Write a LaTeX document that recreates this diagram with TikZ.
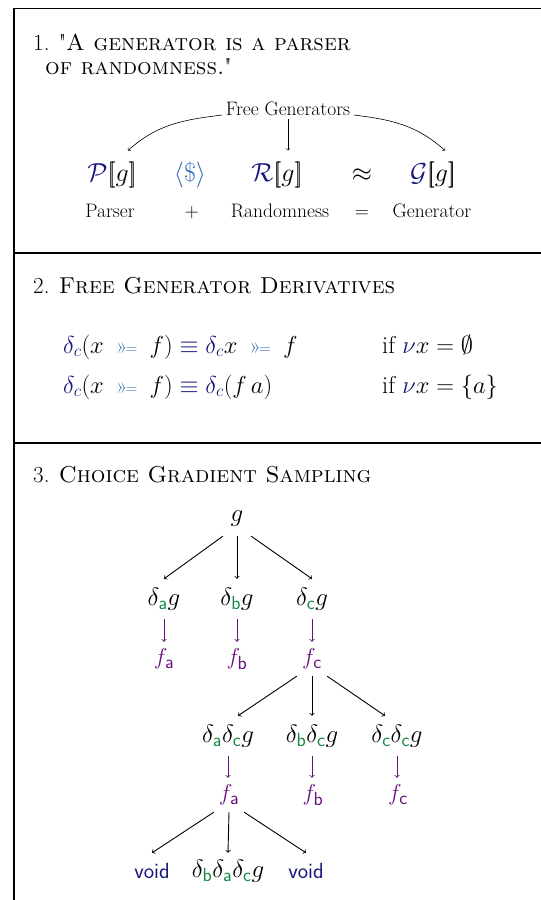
\RequirePackage{fix-cm}
\documentclass[tikz,border=0pt]{standalone}
\usepackage{amsmath}
\usetikzlibrary{positioning}

\definecolor{navy}{RGB}{22,22,125}
\definecolor{lblue}{RGB}{45,105,180}
\definecolor{chgreen}{RGB}{20,135,65}
\definecolor{fpurple}{RGB}{105,15,125}

% choice subscripts, brackets and operators
\newcommand{\ch}[2][chgreen]{_{\mbox{\fontsize{19}{19}\selectfont\sffamily\color{#1}#2}}}
\newcommand{\sembr}[1]{[\mkern-3.5mu[#1]\mkern-3.5mu]}
\newcommand{\bind}{\;\mathbin{\mbox{\color{lblue}\fontsize{22}{22}\selectfont\guillemotright\kern-1.5pt\fontsize{16}{16}\selectfont=}}\;}
\newcommand{\dlt}{\textcolor{navy}{\delta_c}}

\begin{document}
\begin{tikzpicture}[x=1pt,y=1pt,
  sectitle/.style={anchor=base west, inner sep=0pt, font=\fontsize{23}{26}\selectfont},
  lbl/.style={anchor=base, font=\fontsize{19.5}{22}\selectfont},
  sem/.style={anchor=base, inner sep=0pt, outer ysep=11pt, font=\fontsize{26}{30}\selectfont},
  rulebox/.style={anchor=base west, inner sep=0pt, font=\fontsize{24.5}{28}\selectfont},
  dnode/.style={inner sep=0pt, minimum height=40, font=\fontsize{25}{28}\selectfont},
  fnode/.style={inner sep=0pt, minimum height=34, minimum width=30, text=fpurple, font=\fontsize{23}{26}\selectfont},
  voidbox/.style={dnode, minimum height=36, text=navy, font=\fontsize{22}{26}\selectfont\sffamily},
  arr/.style={->, line width=0.9pt},
  parr/.style={arr, fpurple},
  farr/.style={->, line width=0.6pt}]

\useasboundingbox (0,0) rectangle (541,-900);

% Frame
\draw[line width=1.4pt] (541,-8.5) -- (14,-8.5) -- (14,-900);
\draw[line width=1.4pt] (14,-253) -- (541,-253);
\draw[line width=1.4pt] (14,-443) -- (541,-443);

% Section 1
\node[sectitle] (t1a) at (33,-50) {1. \textquotedbl\textsc{A generator is a parser}};
\node[sectitle] (t1b) at (45,-74) {\textsc{of randomness.}\textquotedbl};

\node[lbl] (free) at (288,-115) {Free Generators};

\node[sem] (P) at (112,-181) {$\textcolor{navy}{\mathcal{P}}\sembr{g}$};
\node[sem] (ap) at (190,-181) {$\textcolor{lblue}{\langle\$\rangle}$};
\node[sem] (R) at (277,-181) {$\textcolor{navy}{\mathcal{R}}\sembr{g}$};
\node[sem] (eq) at (362,-181) {$\approx$};
\node[sem] (G) at (433,-181) {$\textcolor{navy}{\mathcal{G}}\sembr{g}$};

\node[lbl] (parser) at (110,-217) {Parser};
\node[lbl] (plus) at (192,-217) {+};
\node[lbl] (rand) at (280,-217) {Randomness};
\node[lbl] (equal) at (362,-217) {=};
\node[lbl] (gen) at (432,-217) {Generator};

\draw[farr] (free.base west) to[out=187,in=42] ([xshift=16]P.north);
\draw[farr] (free.south) -- ([xshift=11]R.north);
\draw[farr] (free.base east) to[out=-7,in=138] ([xshift=12]G.north);

% Section 2
\node[sectitle] (t2) at (33,-293) {2. \textsc{Free Generator Derivatives}};

\node[rulebox] (r1) at (63,-353) {$\dlt(x \bind f) \mathrel{\textcolor{navy}{\equiv}} \dlt x \bind f$};
\node[rulebox] (c1) at (382,-353) {if $\textcolor{navy}{\nu}x = \emptyset$};
\node[rulebox] (r2) at (63,-393) {$\dlt(x \bind f) \mathrel{\textcolor{navy}{\equiv}} \dlt(f\,a)$};
\node[rulebox] (c2) at (382,-393) {if $\textcolor{navy}{\nu}x = \{a\}$};

% Section 3
\node[sectitle] (t3) at (33,-482) {3. \textsc{Choice Gradient Sampling}};

% root
\node[dnode, minimum width=28, minimum height=34] (g) at (237,-519) {$g$};

% first derivatives
\foreach \c/\x in {a/164,b/237,c/312} {
  \node[dnode] (d\c) at (\x,-599) {$\delta\ch{\c}g$};
  \node[fnode] (f\c) at (\x,-659) {$f\ch[fpurple]{\c}$};
  \draw[parr] (d\c.south) -- (d\c.south |- f\c.north);
}
\draw[arr] (g.south west) -- (da.north);
\draw[arr] (g.south) -- (db.north);
\draw[arr] (g.south east) -- (dc.north);

% second derivatives after choosing c
\foreach \c/\x/\fx in {a/228/229,b/312/313,c/397/398} {
  \node[dnode] (d\c c) at (\x,-736) {$\delta\ch{\c}\delta\ch{c}g$};
  \node[fnode] (f\c c) at (\fx,-795) {$f\ch[fpurple]{\c}$};
  \draw[parr] (d\c c.south) -- (d\c c.south |- f\c c.north);
}
\draw[arr] (fc.south west) -- ([xshift=10]dac.north);
\draw[arr] (fc.south) -- (dbc.north);
\draw[arr] (fc.south east) -- ([xshift=-12]dcc.north);

% third level
\node[voidbox] (void1) at (152,-871) {void};
\node[dnode, minimum height=36] (dbac) at (228,-871) {$\delta\ch{b}\delta\ch{a}\delta\ch{c}g$};
\node[voidbox] (void2) at (306,-871) {void};
\draw[arr] (fac.south west) -- (void1.north);
\draw[arr] (fac.south) -- (dbac.north);
\draw[arr] (fac.south east) -- (void2.north);

\end{tikzpicture}
\end{document}
